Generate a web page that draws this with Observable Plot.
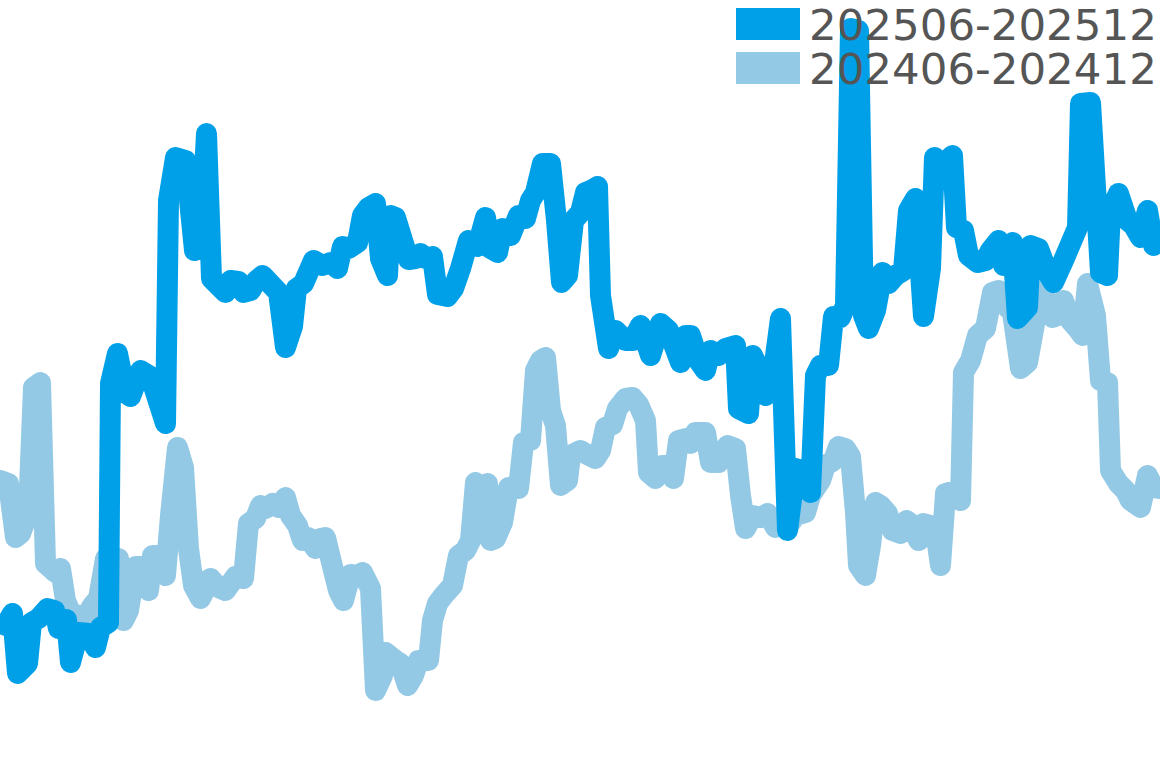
<!DOCTYPE html>
<html>
<head>
<meta charset="utf-8">
<script src="https://cdn.jsdelivr.net/npm/d3@7"></script>
<script src="https://cdn.jsdelivr.net/npm/@observablehq/plot@0.6"></script>
<style>
  html, body { margin: 0; padding: 0; background: #fff; }
  #wrap { position: relative; width: 1160px; height: 768px; overflow: hidden; }
  #legend { position: absolute; left: 0; top: 0; pointer-events: none; }
  #legend text { font-family: "DejaVu Sans", sans-serif; font-size: 43.5px; fill: #555555; }
</style>
</head>
<body>
<div id="wrap"></div>
<script>
// Series labels and colours
const seriesNames = ["202506-202512", "202406-202412"];
const seriesColors = ["#00a0e9", "#93c9e5"];

// 202506-202512 (day position within period, value)
const day2025 = [0.5,1.2,1.7,2.7,3.1,3.8,4.7,5.4,5.8,6.6,7.0,7.8,8.8,9.5,10.0,10.8,11.0,11.7,12.5,13.0,14.0,15.0,16.5,16.8,17.5,18.5,19.4,20.0,20.6,21.1,22.5,23.0,23.8,24.3,25.0,25.6,26.2,27.8,28.5,29.2,29.6,30.3,31.3,32.2,33.0,33.7,34.2,34.8,35.7,36.2,36.8,37.5,38.0,38.7,39.0,39.5,40.8,41.5,42.0,42.5,43.2,43.7,44.7,45.3,46.0,46.8,47.7,48.5,49.0,49.7,50.2,51.0,51.8,52.5,53.0,53.5,54.2,55.0,55.6,56.1,56.7,57.3,58.0,58.5,59.0,59.7,60.0,60.8,61.5,62.5,63.2,64.0,65.0,66.0,66.8,68.0,68.5,69.0,69.8,70.5,71.0,71.8,72.5,73.5,73.8,74.8,75.2,76.0,76.5,77.2,78.0,78.7,79.5,80.2,81.0,81.5,82.0,82.8,83.3,84.0,84.5,85.0,85.8,86.3,86.8,87.5,88.2,88.8,89.5,90.3,90.8,91.5,92.3,93.0,93.4,94.1,95.2,95.6,96.3,96.8,97.7,98.5,99.0,99.8,100.3,101.2,101.7,102.7,103.0,103.8,104.7,105.3,106.3,107.7,108.0,109.0,110.0,110.7,111.0,111.8,112.7,113.3,114.0,114.7,115.3,116.0];
const val2025 = [14.3,15.5,9.5,10.5,14.6,15.0,16.0,15.8,14.0,14.9,10.6,13.6,13.5,12.1,14.1,14.6,38.5,41.5,37.6,37.2,39.8,39.2,34.5,56.8,61.1,60.8,51.8,52.0,63.5,49.0,47.6,48.8,48.7,47.6,47.8,48.8,49.3,47.6,42.1,44.2,48.0,48.5,50.8,50.3,50.6,50.0,52.2,52.0,52.6,55.3,56.1,56.5,51.0,49.3,55.3,55.1,50.9,51.0,51.5,51.0,51.2,47.4,47.2,48.0,50.0,52.8,52.2,55.1,52.0,51.6,54.0,53.3,55.3,55.0,56.8,57.6,60.5,60.5,54.8,48.6,49.3,54.8,55.6,57.6,57.8,58.2,47.3,42.0,43.8,42.8,42.8,44.3,41.3,44.5,43.8,40.6,43.3,43.3,40.8,39.8,41.8,41.3,42.0,42.3,36.0,35.5,41.3,39.6,37.3,39.0,45.0,23.8,30.0,29.8,27.6,39.3,40.3,40.3,45.2,45.1,46.3,74.0,73.8,45.3,44.0,45.8,49.6,48.5,49.3,49.8,55.8,57.0,45.2,50.0,61.1,60.3,61.3,54.1,53.8,51.3,50.6,50.8,51.8,52.8,50.3,52.6,45.0,46.1,52.3,52.0,49.6,48.6,50.8,54.1,66.5,66.6,49.6,49.3,55.8,57.5,54.8,54.3,53.1,55.8,52.3,53.1];

// 202406-202412 (day position within period, value)
const day2024 = [0,0.8,1.5,2.0,2.8,3.3,4.0,4.5,5.5,6.0,6.5,7.0,7.8,8.5,9.2,9.8,10.5,11.8,12.3,12.8,13.5,14.2,14.8,15.2,15.7,16.5,17.0,17.7,18.3,18.8,19.3,20.0,21.0,21.8,22.5,23.5,24.3,24.8,25.5,26.0,26.5,27.2,27.8,28.5,29.0,29.7,30.2,30.8,31.5,32.0,32.5,33.3,33.8,34.3,35.0,35.7,36.2,37.0,37.5,38.2,38.5,39.5,40.0,40.7,41.3,41.8,42.8,43.2,43.7,44.3,45.2,45.8,46.5,47.0,47.5,48.2,48.7,49.0,49.5,50.2,50.8,51.8,52.3,53.0,53.5,54.0,54.5,55.0,55.5,56.0,56.7,57.0,58.0,58.5,59.5,60.0,60.5,61.2,61.7,62.5,63.2,63.8,64.5,64.8,65.5,66.2,66.8,67.3,67.8,68.5,69.0,69.5,70.5,71.0,71.8,72.7,73.5,74.0,74.5,75.2,76.0,76.7,77.5,78.2,78.8,79.5,80.5,81.0,82.0,82.5,83.3,83.8,84.5,85.0,85.5,85.8,86.5,87.0,87.5,88.0,88.7,89.2,90.0,90.6,91.3,91.8,92.3,93.0,93.5,94.0,94.5,95.5,96.0,96.3,97.0,97.7,98.5,99.2,99.8,100.5,101.2,102.0,102.7,103.5,104.0,104.7,105.2,105.7,106.3,107.0,107.7,108.2,108.7,109.5,110.0,110.7,111.0,111.8,112.5,113.0,114.0,114.7,115.3,116.0];
const val2024 = [28.8,28.5,23.1,23.5,25.6,38.1,38.6,20.5,19.6,20.0,16.8,15.6,15.3,15.1,16.3,17.0,21.0,21.0,14.8,15.8,20.2,20.2,17.8,21.3,21.3,19.3,25.3,32.1,30.1,22.0,18.3,17.0,19.0,18.1,17.8,19.2,19.0,24.5,25.0,26.3,26.0,26.5,26.1,27.1,25.3,24.3,22.8,23.1,22.0,23.0,23.1,19.8,17.8,16.8,19.4,19.3,19.6,18.0,7.8,9.3,11.6,10.8,10.5,8.3,9.3,10.8,10.8,14.8,16.5,17.3,18.3,21.3,21.8,22.8,28.6,28.2,28.5,22.8,23.0,24.6,28.1,28.0,32.6,32.8,39.8,40.8,41.1,35.8,34.3,28.3,28.8,31.3,31.8,31.5,31.0,31.8,34.1,34.4,36.0,37.0,37.1,36.4,34.8,29.6,29.0,30.3,30.3,29.0,32.8,33.0,32.5,33.6,33.6,30.6,30.6,32.3,32.0,27.3,24.0,25.3,25.1,25.5,24.1,24.3,24.3,25.3,25.6,27.3,28.8,30.3,30.8,32.2,32.0,31.2,25.6,20.3,19.3,22.3,26.6,26.3,25.5,23.8,23.5,24.8,24.3,22.8,24.5,24.3,23.8,20.3,27.5,27.8,26.8,39.6,40.8,43.3,44.0,47.6,47.8,46.3,45.6,40.0,40.6,45.0,47.8,46.8,45.1,45.3,46.8,44.8,44.0,43.3,48.5,45.3,38.8,38.6,29.8,28.5,27.8,26.8,26.1,29.3,28.1,28.0];

const rows2025 = day2025.map((d, i) => ({day: d, value: val2025[i]}));
const rows2024 = day2024.map((d, i) => ({day: d, value: val2024[i]}));

const chart = Plot.plot({
  width: 1160,
  height: 768,
  margin: 0,
  x: {domain: [0, 116], axis: null},
  y: {domain: [0, 76.8], axis: null},
  marks: [
    Plot.line(rows2024, {x: "day", y: "value", stroke: seriesColors[1], strokeWidth: 21, strokeLinejoin: "round", strokeLinecap: "round"}),
    Plot.line(rows2025, {x: "day", y: "value", stroke: seriesColors[0], strokeWidth: 21, strokeLinejoin: "round", strokeLinecap: "round"})
  ]
});
const wrap = document.getElementById("wrap");
wrap.appendChild(chart);

// Legend overlay (top right)
const leg = d3.create("svg").attr("id", "legend").attr("width", 1160).attr("height", 100);
seriesNames.forEach((name, i) => {
  const g = leg.append("g").attr("transform", `translate(736,${8 + i * 44})`);
  g.append("rect").attr("width", 64).attr("height", 32).attr("fill", seriesColors[i]);
  g.append("text").attr("x", 73).attr("y", 32).text(name);
});
wrap.appendChild(leg.node());
</script>
</body>
</html>
